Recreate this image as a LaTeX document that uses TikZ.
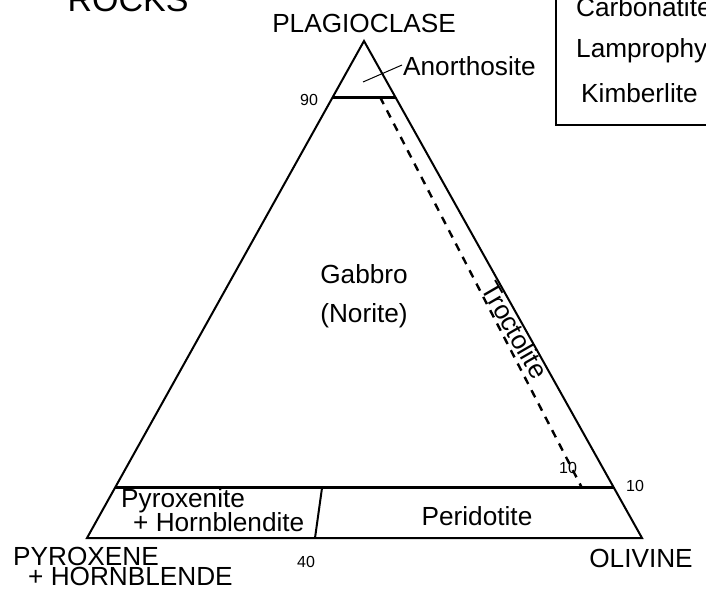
\documentclass[tikz,border=0pt]{standalone}
\usepackage{fontspec}
\setmainfont{Liberation Sans}
\usetikzlibrary{calc}
\begin{document}
\begin{tikzpicture}[x=1pt,y=-1pt,
  big/.style={font=\fontsize{26.2}{30}\selectfont,inner sep=0pt,anchor=base},
  huge/.style={font=\fontsize{34}{40}\selectfont,inner sep=0pt,anchor=base},
  num/.style={font=\fontsize{16}{19}\selectfont,inner sep=0pt},
  edge/.style={line width=2pt,line join=miter},
  bound/.style={line width=2.8pt},
  dashline/.style={line width=2.4pt,dash pattern=on 8pt off 7pt},
  leader/.style={line width=1pt}]
\useasboundingbox (0,0) rectangle (706,594);
\clip (0,0) rectangle (706,594);
% vertices
\coordinate (A) at (364,41);
\coordinate (L) at (87,538);
\coordinate (R) at (642,538);
\coordinate (p90L) at ($(A)!0.113!(L)$);
\coordinate (p90R) at ($(A)!0.113!(R)$);
\coordinate (p10L) at ($(A)!0.899!(L)$);
\coordinate (p10R) at ($(A)!0.899!(R)$);
\coordinate (divT) at (322,488);
\coordinate (divB) at (315,538);
\coordinate (dashT) at (380,97);
\coordinate (dashB) at (582,488);
\coordinate (leadA) at (363,82);
\coordinate (leadB) at (402,65);
% triangle
\draw[edge] (A) -- (L) -- (R) -- cycle;
\draw[bound] (p90L) -- (p90R);
\draw[bound] (p10L) -- (p10R);
\draw[edge] (divT) -- (divB);
\draw[dashline] (dashT) -- (dashB);
\draw[leader] (leadA) -- (leadB);
% legend box (cut off)
\coordinate (boxTL) at (556,-5);
\coordinate (boxBL) at (556,125);
\coordinate (boxBR) at (720,125);
\draw[edge] (boxTL) -- (boxBL) -- (boxBR);
% texts
\node[huge] (rocks) at (128,12) {ROCKS};
\node[big] (plag) at (364,33) {PLAGIOCLASE};
\node[big] (oliv) at (641,567) {OLIVINE};
\node[big,anchor=base west] (pyx1) at (13,565) {PYROXENE};
\node[big,anchor=base west] (pyx2) at (28,585) {+ HORNBLENDE};
\node[big,anchor=base west] (anor) at (403,75) {Anorthosite};
\node[big] (gab) at (364,283) {Gabbro};
\node[big] (nor) at (364,322) {(Norite)};
\node[big,anchor=base west] (pyr1) at (121,507) {Pyroxenite};
\node[big,anchor=base west] (pyr2) at (133,531) {+ Hornblendite};
\node[big] (peri) at (477,525) {Peridotite};
\node[big,anchor=center,rotate=-60] (troc) at (515,330) {Troctolite};
\node[big,anchor=base west] (carb) at (576,17) {Carbonatite};
\node[big,anchor=base west] (lamp) at (576,58) {Lamprophyre};
\node[big,anchor=base west] (kimb) at (581,102) {Kimberlite};
\node[num] (n90) at (309,100) {90};
\node[num] (n40) at (306,562) {40};
\node[num] (n10a) at (635,486) {10};
\node[num] (n10b) at (568,468) {10};
\end{tikzpicture}
\end{document}
